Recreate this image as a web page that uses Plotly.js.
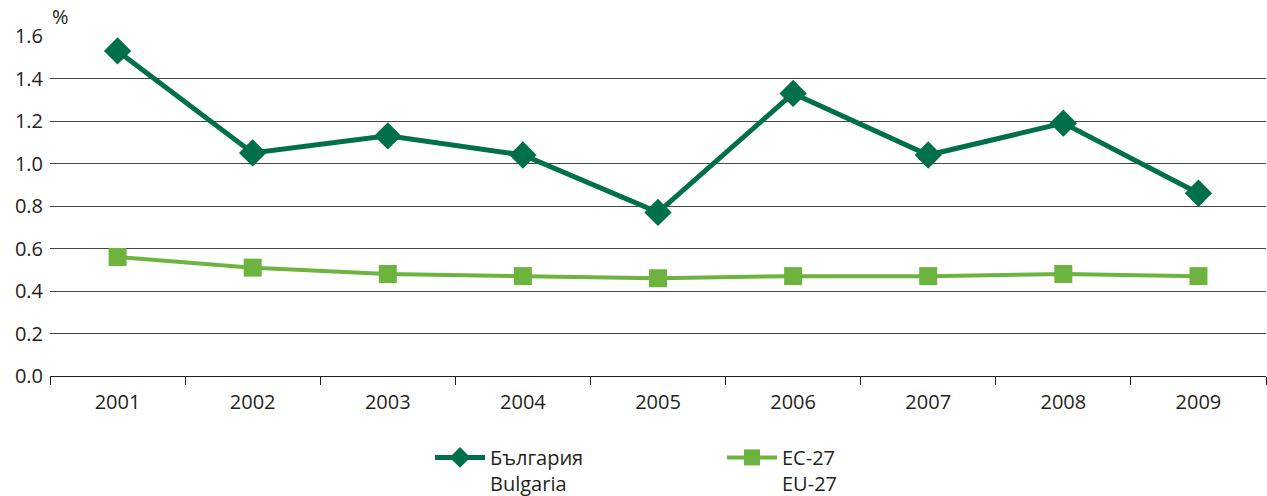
<!DOCTYPE html>
<html><head><meta charset="utf-8">
<script src="https://cdn.plot.ly/plotly-3.0.1.min.js"></script>
<style>body{margin:0;padding:0;background:#fff}#chart{width:1267px;height:496px}</style>
</head><body><div id="chart"></div>
<script>
const years = ['2001','2002','2003','2004','2005','2006','2007','2008','2009'];
const bulgaria = [1.53, 1.05, 1.13, 1.04, 0.77, 1.33, 1.04, 1.19, 0.86];
const eu27 = [0.56, 0.51, 0.48, 0.47, 0.46, 0.47, 0.47, 0.48, 0.47];
const seriesNames = ['България<br>Bulgaria', 'ЕС-27<br>EU-27'];
const yTicks = [0, 0.2, 0.4, 0.6, 0.8, 1.0, 1.2, 1.4, 1.6];

const font = {family: 'Open Sans, DejaVu Sans, sans-serif', size: 20, color: '#231f20'};

const traces = [
  {x: years, y: bulgaria, name: seriesNames[0], type: 'scatter', mode: 'lines+markers',
   line: {color: '#00704a', width: 5}, marker: {symbol: 'diamond', size: 21, color: '#00704a'}},
  {x: years, y: eu27, name: seriesNames[1], type: 'scatter', mode: 'lines+markers',
   line: {color: '#6db33f', width: 4}, marker: {symbol: 'square', size: 18, color: '#6db33f'}}
];

const layout = {
  width: 1267, height: 496,
  margin: {l: 50, r: 1, t: 36, b: 120, autoexpand: false},
  paper_bgcolor: '#fff', plot_bgcolor: '#fff',
  font: font,
  showlegend: true,
  legend: {orientation: 'h', x: 0.3125, xanchor: 'left', y: -0.182, yanchor: 'top',
           entrywidth: 227, font: font, itemwidth: 50, valign: 'top'},
  xaxis: {type: 'category', range: [-0.5, 8.5], showline: true, linecolor: '#231f20', linewidth: 1, automargin: false,
          ticks: 'outside', tickson: 'boundaries', ticklen: 8, tickcolor: '#231f20',
          showgrid: false, ticklabelstandoff: 8, tickfont: font, zeroline: false},
  yaxis: {range: [0, 1.6], tickvals: yTicks, ticktext: yTicks.map(v => v.toFixed(1)), automargin: false,
          showgrid: true, gridcolor: '#444', gridwidth: 1, zeroline: false,
          showline: false, ticks: '', tickfont: font, ticklabelstandoff: 6},
  annotations: [{text: '%', xref: 'paper', yref: 'paper', x: 0, y: 1, xanchor: 'left', yanchor: 'bottom',
                 yshift: 4, showarrow: false, font: font}]
};

Plotly.newPlot('chart', traces, layout, {displayModeBar: false, staticPlot: true});
</script></body></html>
